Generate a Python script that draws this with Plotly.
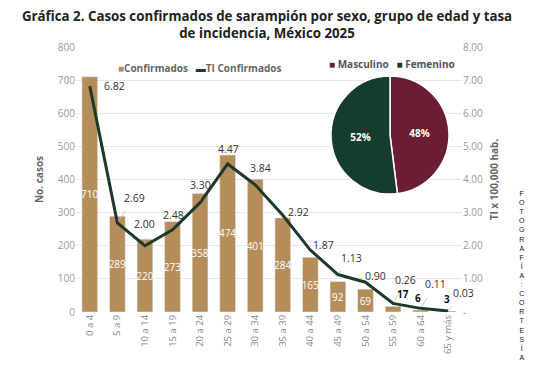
import plotly.graph_objects as go

categories = ["0 a 4", "5 a 9", "10 a 14", "15 a 19", "20 a 24", "25 a 29", "30 a 34",
              "35 a 39", "40 a 44", "45 a 49", "50 a 54", "55 a 59", "60 a 64", "65 y más"]
confirmados = [710, 289, 220, 273, 358, 474, 401, 284, 165, 92, 69, 17, 6, 3]
ti_confirmados = [6.82, 2.69, 2.00, 2.48, 3.30, 4.47, 3.84, 2.92, 1.87, 1.13, 0.90, 0.26, 0.11, 0.03]
sexo_labels = ["Masculino", "Femenino"]
sexo_values = [48, 52]
left_ticks = [0, 100, 200, 300, 400, 500, 600, 700, 800]
right_ticks = [0, 1, 2, 3, 4, 5, 6, 7, 8]
right_ticktext = ["-", "1.00", "2.00", "3.00", "4.00", "5.00", "6.00", "7.00", "8.00"]

# label offsets (pixels) for line labels
lbl_dx = [25, 17, 0, 1, 0, 1, 5, 16, 13, 14, 10, 12, 15, 15]
lbl_dy = [0, -25, -22, -15, -18, -15, -17, -3, -5, -17, -6, -23, -24, -18]
# horizontal nudges for small-bar labels (pixels)
small_dx = {11: 10, 12: -3, 13: -1}

BAR = "#B58D5A"
LINE = "#1B3A2C"
MASC = "#6B1D33"
FEM = "#163C2F"
FONT = "Open Sans"

# page body has an 8px default margin; figure is sized/offset to compensate
OFF = 8
W, H = 533 - OFF, 366 - OFF
PLOT_L, PLOT_R, PLOT_T, PLOT_B = 76, 462, 47, 312  # target in window pixels
L, R, T, B = PLOT_L - OFF, W - (PLOT_R - OFF), PLOT_T - OFF, H - (PLOT_B - OFF)
PW, PH = W - L - R, H - T - B


def px(xp):
    return (xp - OFF - L) / PW


def py(yp):
    return (H - B - (yp - OFF)) / PH


inside_text = [str(v) if v >= 50 else "" for v in confirmados]

fig = go.Figure()
fig.add_trace(go.Bar(
    x=categories, y=confirmados, name="Confirmados",
    marker_color=BAR, text=inside_text,
    textposition="inside", insidetextanchor="middle", textangle=0,
    constraintext="none",
    insidetextfont=dict(color="white", size=10, family=FONT),
    cliponaxis=False, showlegend=False,
))
fig.add_trace(go.Scatter(
    x=categories, y=ti_confirmados, name="TI Confirmados", yaxis="y2",
    mode="lines", line=dict(color=LINE, width=3), showlegend=False,
))
fig.add_trace(go.Pie(
    labels=sexo_labels, values=sexo_values, sort=False, direction="clockwise",
    marker=dict(colors=[MASC, FEM], line=dict(color="white", width=1.5)),
    textinfo="percent", textfont=dict(color="white", size=10, family=FONT, weight="bold"),
    domain=dict(x=[px(330), px(450)], y=[py(194), py(76)]), showlegend=False,
    hoverinfo="label+percent",
))

annotations = []
for c, v, dx, dy in zip(categories, ti_confirmados, lbl_dx, lbl_dy):
    show = abs(dy) > 10
    annotations.append(dict(
        x=c, y=v, xref="x", yref="y2", text=f"{v:.2f}",
        showarrow=True, arrowhead=0, arrowwidth=0.8,
        arrowcolor="#bbbbbb" if show else "rgba(0,0,0,0)",
        ax=dx, ay=dy, standoff=2, startstandoff=6,
        font=dict(size=10.5, color="#333", family=FONT),
    ))

for i, (c, v) in enumerate(zip(categories, confirmados)):
    if v < 50:
        annotations.append(dict(
            x=c, y=v, xref="x", yref="y", text=f"<b>{v}</b>", showarrow=False,
            yanchor="bottom", yshift=3, xshift=small_dx.get(i, 0),
            font=dict(size=10, color="#111", family=FONT),
        ))

# legends as text
annotations.append(dict(
    x=px(116), y=py(68), xref="paper", yref="paper", xanchor="left", yanchor="middle",
    showarrow=False,
    text=f"<span style='color:{BAR}'>■</span><b>Confirmados</b>   "
         f"<span style='color:{LINE}'><b>▬</b></span><b>TI Confirmados</b>",
    font=dict(size=10, color="#666", family=FONT),
))
annotations.append(dict(
    x=px(327), y=py(64), xref="paper", yref="paper", xanchor="left", yanchor="middle",
    showarrow=False,
    text=f"<span style='color:{MASC}'>■</span> <b>Masculino</b>   "
         f"<span style='color:{FEM}'>■</span> <b>Femenino</b>",
    font=dict(size=10, color="#555", family=FONT),
))

fotografia = "FOTOGRAFÍA:CORTESÍA"
annotations.append(dict(
    x=px(522), y=py(275), xref="paper", yref="paper", xanchor="center", yanchor="middle",
    text="<br>".join(list(fotografia)),
    showarrow=False, font=dict(size=7, color="#111", family="Liberation Sans"),
))

fig.update_layout(
    width=W, height=H,
    margin=dict(l=L, r=R, t=T, b=B, autoexpand=False),
    paper_bgcolor="white", plot_bgcolor="white",
    font=dict(family=FONT, color="#888", size=10),
    title=dict(
        text="<b>Gráfica 2. Casos confirmados de sarampión por sexo, grupo de edad y tasa<br>de incidencia, México 2025</b>",
        x=(267 - OFF) / W, xanchor="center", xref="container",
        y=1 - 13 / H, yanchor="top", yref="container",
        font=dict(size=13.3, color="#222", family=FONT), automargin=False,
    ),
    bargap=0.43,
    xaxis=dict(type="category", range=[-0.5, len(categories) - 0.5], autorange=False,
               tickangle=-90, tickfont=dict(size=9.5, color="#888"), showgrid=False,
               showline=False, ticks="", automargin=False),
    yaxis=dict(range=[0, 800], tickvals=left_ticks, gridcolor="#e6e6e6", zeroline=False,
               tickfont=dict(size=10, color="#999"), automargin=False,
               title=dict(text="<b>No. casos</b>", font=dict(size=10, color="#666"), standoff=12)),
    yaxis2=dict(range=[0, 8], overlaying="y", side="right", tickvals=right_ticks,
                ticktext=right_ticktext, showgrid=False, zeroline=False,
                tickfont=dict(size=10, color="#999"), automargin=False,
                title=dict(text="<b>TI x 100,000 hab.</b>", font=dict(size=10, color="#666"), standoff=8)),
    annotations=annotations,
    showlegend=False,
)

fig.write_html("out.html")
